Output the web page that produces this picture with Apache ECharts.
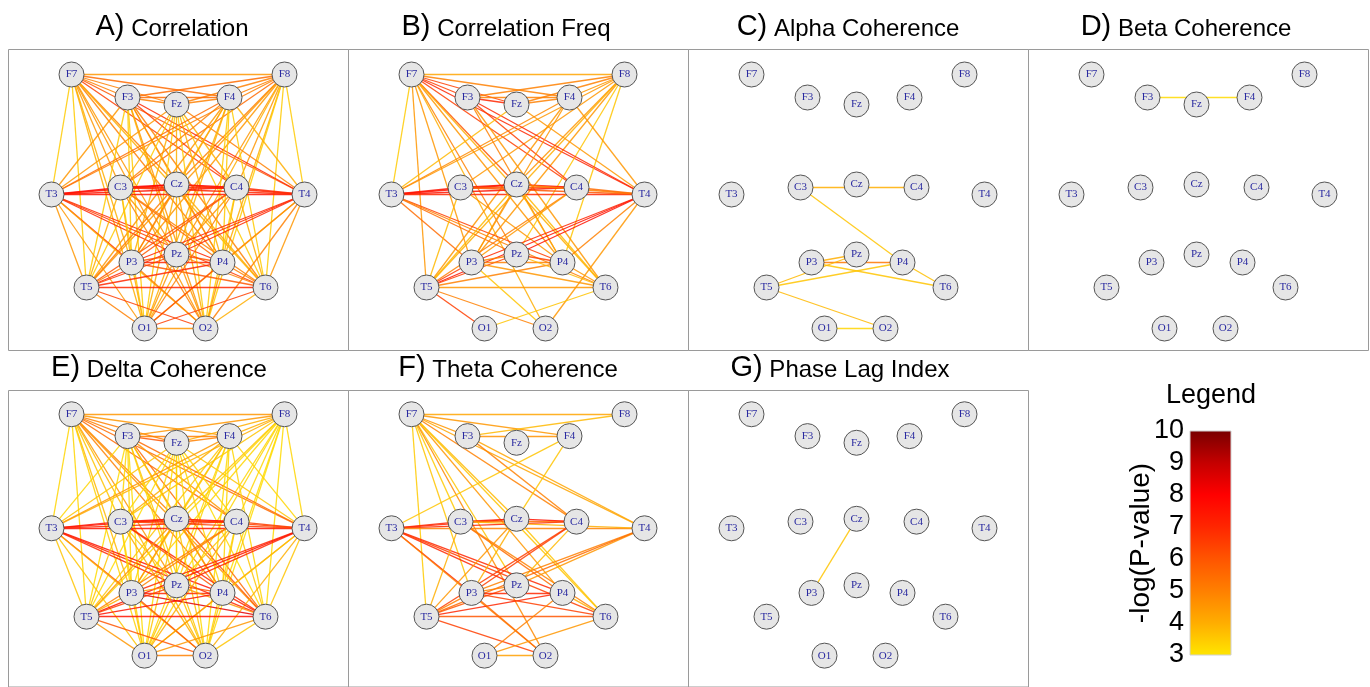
<!DOCTYPE html>
<html>
<head>
<meta charset="utf-8">
<script src="https://cdn.jsdelivr.net/npm/echarts@6/dist/echarts.min.js"></script>
<style>
  html, body { margin: 0; padding: 0; background: #fff; }
  #chart { width: 1370px; height: 687px; }
</style>
</head>
<body>
<div id="chart"></div>
<script>
// electrode layout (panel units, one unit = one pixel of a panel)
const electrodes = ['F7', 'F8', 'F3', 'Fz', 'F4', 'T3', 'C3', 'Cz', 'C4', 'T4', 'P3', 'Pz', 'P4', 'T5', 'T6', 'O1', 'O2'];
const electrodeX = [63, 276, 119, 168, 221, 43, 112, 168, 228, 296, 123, 168, 214, 78, 257, 136, 197];
const electrodeY = [25, 25, 48, 55, 48, 145, 138, 135, 138, 145, 213, 205, 213, 238, 238, 279, 279];

const panelLetters = ['A)', 'B)', 'C)', 'D)', 'E)', 'F)', 'G)'];
const panelNames = ['Correlation', 'Correlation Freq', 'Alpha Coherence', 'Beta Coherence',
  'Delta Coherence', 'Theta Coherence', 'Phase Lag Index'];

// edges: [from, to, -log(p)]
const correlationEdges = [
  ['F7','F8',4.5],['F7','F3',5],['F7','Fz',5],['F7','F4',5.5],['F7','T3',3.5],['F7','C3',4.5],['F7','Cz',5],['F7','C4',6.5],
  ['F7','T4',6],['F7','P3',4],['F7','Pz',4.5],['F7','P4',5],['F7','T5',3.5],['F7','T6',4],['F7','O1',4],['F7','O2',4.5],
  ['F8','F3',5.5],['F8','Fz',5],['F8','F4',5],['F8','T3',5],['F8','C3',5.5],['F8','Cz',5],['F8','C4',4.5],['F8','T4',3.5],
  ['F8','P3',4.5],['F8','Pz',4.5],['F8','P4',4],['F8','T5',4.5],['F8','T6',3.5],['F8','O1',4],['F8','O2',3.5],
  ['F3','Fz',5],['F3','F4',5.5],['F3','C4',6.5],['F3','T4',7],['F3','P4',5],['F3','T6',5],['F3','O2',4.5],['F3','Cz',4.5],
  ['F3','Pz',4],['F3','T3',4.5],['F3','P3',3.5],['F3','O1',3.5],['F3','T5',3.5],
  ['Fz','F4',5],['Fz','T3',4.5],['Fz','C3',4],['Fz','Cz',4],['Fz','C4',4],['Fz','T4',5],['Fz','P3',4],['Fz','P4',4],
  ['Fz','T5',3.5],['Fz','T6',3.5],['Fz','O1',3.5],['Fz','O2',3.5],
  ['F4','T3',5.5],['F4','C3',5],['F4','P3',4.5],['F4','T5',4.5],['F4','O1',4],['F4','Cz',4],['F4','T4',4],['F4','P4',3.5],
  ['F4','T6',3.5],['F4','O2',3.5],['F4','Pz',4],
  ['T3','C3',8],['T3','Cz',7.5],['T3','C4',7.5],['T3','T4',7.5],['T3','P3',7],['T3','Pz',7],['T3','P4',7],['T3','T6',6.5],
  ['T3','T5',4.5],['T3','O1',4.5],['T3','O2',4],
  ['C3','Cz',8],['C3','C4',7],['C3','T4',7],['C3','P4',5.5],['C3','T6',5],['C3','O2',5],['C3','Pz',4.5],['C3','P3',4],
  ['C3','T5',4],['C3','O1',3.5],
  ['Cz','C4',8],['Cz','T4',7],['Cz','P3',5],['Cz','T5',5],['Cz','P4',4.5],['Cz','T6',4],['Cz','O1',4],['Cz','O2',4],['Cz','Pz',4],
  ['C4','T4',7],['C4','P3',6],['C4','T5',6],['C4','O1',5],['C4','P4',4],['C4','T6',4],['C4','Pz',4.5],['C4','O2',3.5],
  ['T4','P3',7],['T4','Pz',7],['T4','T5',7],['T4','P4',5],['T4','T6',4.5],['T4','O1',4.5],['T4','O2',5],
  ['P3','Pz',6],['P3','P4',7],['P3','T6',6],['P3','O2',5],['P3','T5',5],['P3','O1',4],
  ['Pz','P4',6],['Pz','T5',6.5],['Pz','T6',5],['Pz','O1',4.5],['Pz','O2',4.5],
  ['P4','T5',7],['P4','T6',5],['P4','O1',6],['P4','O2',4.5],
  ['T5','T6',7],['T5','O1',5],['T5','O2',6.5],['T6','O1',6.5],['T6','O2',4],['O1','O2',4.5]
];
const correlationFreqEdges = [
  ['F7','F8',4.2],['F7','F3',6.5],['F7','Fz',6.5],['F7','F4',5],['F7','T3',3.5],['F7','C4',6.5],['F7','T4',7],['F7','Cz',6],
  ['F7','P3',4.5],['F7','Pz',5],['F7','P4',4.5],['F7','T5',4.5],['F7','T6',4],['F7','O2',4],
  ['F8','F3',5],['F8','Fz',5],['F8','F4',4.5],['F8','T3',4.5],['F8','C3',4.5],['F8','Cz',4.5],['F8','P3',4.5],['F8','T5',4],
  ['F8','Pz',3.6],['F8','P4',3.6],
  ['F3','Fz',7],['F3','F4',5],['F3','T4',7],['F3','C4',6.5],['F3','P4',5],['F3','T6',4.5],
  ['Fz','T3',3.8],['Fz','T4',4.5],['Fz','F4',5],
  ['F4','T3',4.8],['F4','P3',4.5],['F4','T5',4.5],['F4','T4',4.5],
  ['T3','C3',7.5],['T3','Cz',7.5],['T3','C4',7.5],['T3','T4',7],['T3','P3',5.5],['T3','Pz',5.5],['T3','P4',6.5],['T3','T6',5],
  ['C3','Cz',7.5],['C3','C4',6],['C3','T4',6],['C3','T5',3.8],['C3','P4',4.5],
  ['Cz','C4',7.5],['Cz','T4',5],['Cz','P3',4.5],['Cz','T5',3.8],['Cz','T6',3.8],['Cz','P4',4],
  ['C4','T4',5.5],['C4','T5',5],['C4','P3',4.5],
  ['T4','P3',7],['T4','Pz',7.5],['T4','T5',7.5],['T4','P4',5],['T4','O2',4.5],
  ['T5','P3',6.5],['T5','Pz',6.5],['T5','P4',5],['T5','T6',4.5],['T5','O1',6.5],['T5','O2',5],
  ['P3','Pz',5],['P3','P4',5],['P3','T6',4.5],['P3','O2',3.6],
  ['Pz','P4',6.5],['Pz','T6',3.8],['P4','T6',4.5],['T6','O1',3.6]
];
const alphaEdges = [
  ['C3','C4',4],['C3','P4',3.6],['P3','Pz',4],['P3','P4',5.2],['P3','T6',3.6],['P4','T6',3.7],
  ['T5','Pz',3.8],['T5','P4',3.6],['T5','O2',3.8],['O1','O2',3.3]
];
const betaEdges = [['F3','F4',3.2]];
const deltaEdges = [
  ['F7','F8',4.5],['F7','F3',5],['F7','Fz',5],['F7','F4',4.5],['F7','T3',3.3],['F7','C3',3.6],['F7','Cz',5],['F7','C4',5.5],
  ['F7','T4',5.5],['F7','P3',3.8],['F7','Pz',4.5],['F7','P4',5],['F7','T5',3.3],['F7','T6',4.5],['F7','O1',3.4],['F7','O2',3.8],
  ['F8','F3',4.5],['F8','Fz',4],['F8','F4',4],['F8','T3',4],['F8','C3',3.6],['F8','Cz',3.6],['F8','C4',3.3],['F8','T4',3.3],
  ['F8','P3',3.3],['F8','Pz',3.3],['F8','P4',3.2],['F8','T5',3.3],['F8','T6',3.2],['F8','O1',3.3],['F8','O2',3.2],
  ['F3','Fz',6],['F3','F4',5],['F3','C4',4.5],['F3','T4',5.5],['F3','P4',4.5],['F3','T6',5.5],['F3','Cz',3.6],['F3','Pz',3.3],
  ['F3','T3',3.3],['F3','C3',3.3],['F3','P3',3.3],['F3','T5',3.2],['F3','O1',3.2],['F3','O2',3.6],
  ['Fz','F4',5],['Fz','T3',3.6],['Fz','C3',3.3],['Fz','Cz',3.3],['Fz','C4',3.3],['Fz','T4',3.6],['Fz','P3',3.3],['Fz','P4',3.3],
  ['Fz','T5',3.2],['Fz','T6',3.2],['Fz','O1',3.2],['Fz','O2',3.2],['Fz','Pz',3.3],
  ['F4','T3',4.5],['F4','C3',4],['F4','Cz',3.6],['F4','P3',3.6],['F4','T5',3.6],['F4','O1',3.3],['F4','T4',3.3],['F4','P4',3.3],
  ['F4','T6',3.3],['F4','O2',3.2],['F4','Pz',3.3],
  ['T3','C3',7.5],['T3','Cz',7.5],['T3','C4',7],['T3','T4',7.5],['T3','P3',6],['T3','Pz',7],['T3','P4',7.5],['T3','T6',7],
  ['T3','T5',3.6],['T3','O1',3.6],['T3','O2',4],
  ['C3','Cz',7.5],['C3','C4',7],['C3','T4',6.5],['C3','P4',6],['C3','T6',7],['C3','O2',4],['C3','Pz',3.6],['C3','P3',3.3],
  ['C3','T5',3.6],['C3','O1',3.3],
  ['Cz','C4',8],['Cz','T4',6.5],['Cz','P3',4.5],['Cz','T5',4.5],['Cz','P4',4.5],['Cz','T6',6],['Cz','O1',3.6],['Cz','O2',3.6],['Cz','Pz',3.3],
  ['C4','T4',6.5],['C4','P3',5],['C4','T5',5],['C4','O1',4],['C4','P4',3.6],['C4','T6',3.6],['C4','Pz',3.6],['C4','O2',3.3],
  ['T4','P3',7],['T4','Pz',7],['T4','T5',7.5],['T4','P4',4.5],['T4','T6',3.6],['T4','O1',3.6],['T4','O2',4],
  ['P3','Pz',4.5],['P3','P4',7],['P3','T6',8.5],['P3','O2',6],['P3','T5',4],['P3','O1',3.6],
  ['Pz','P4',6],['Pz','T5',6.5],['Pz','T6',4.5],['Pz','O1',3.6],['Pz','O2',3.6],
  ['P4','T5',7.5],['P4','T6',7],['P4','O1',4.5],['P4','O2',3.6],
  ['T5','T6',7.5],['T5','O1',4.5],['T5','O2',6],['T6','O1',4.5],['T6','O2',3.6],['O1','O2',5]
];
const thetaEdges = [
  ['F7','F8',4.2],['F7','F3',4.5],['F7','F4',4.5],['F7','Cz',3.8],['F7','C3',3.5],['F7','C4',5],['F7','T4',4.2],['F7','P3',3.6],
  ['F7','Pz',3.6],['F7','P4',4.5],['F7','T5',3.5],['F7','O2',4.8],['F7','T6',3.6],
  ['F8','F3',3.8],['F3','F4',4.6],['F3','C4',5],['F3','T4',4.2],['F4','T3',3.6],['F4','Cz',3.6],
  ['T3','C3',7],['T3','Cz',7],['T3','C4',7],['T3','T4',5],['T3','P3',7],['T3','Pz',7],['T3','P4',7],['T3','T6',6.5],['T3','O2',5],
  ['C3','Cz',7.5],['C3','C4',5.5],['C3','T4',4],['C3','P4',5.5],['C3','T6',5],['C3','T5',4],
  ['Cz','C4',7.5],['Cz','T5',4.5],['Cz','P3',4],['Cz','T6',3.6],
  ['C4','T5',6.5],['C4','P3',6.5],['C4','Pz',3.8],
  ['T4','P3',5],['T4','Pz',4.5],['T4','T5',5.5],
  ['T5','P3',5],['T5','Pz',6],['T5','P4',7],['T5','T6',6],['T5','O2',6.5],
  ['P3','P4',7],['P3','T6',6.5],['P3','O2',5.5],['P3','Pz',5],
  ['P4','O1',5],['P4','T6',4],['T6','O1',4.5],['O1','O2',4.3]
];
const phaseLagEdges = [['Cz','P3',3.6]];

const legendTicks = [3, 4, 5, 6, 7, 8, 9, 10];
const heatStops = [[3,'#FFE600'],[4,'#FFAE00'],[5,'#FF8000'],[6,'#FF5500'],[7,'#FF2600'],[8,'#FF0000'],[9,'#C40000'],[10,'#780000']];

const panelEdges = [correlationEdges, correlationFreqEdges, alphaEdges, betaEdges, deltaEdges, thetaEdges, phaseLagEdges];

function hexToRgb(h) {
  return [parseInt(h.slice(1, 3), 16), parseInt(h.slice(3, 5), 16), parseInt(h.slice(5, 7), 16)];
}
function heat(v) {
  for (let i = 1; i < heatStops.length; i++) {
    if (v <= heatStops[i][0]) {
      const [v0, c0] = heatStops[i - 1], [v1, c1] = heatStops[i];
      const t = (v - v0) / (v1 - v0), a = hexToRgb(c0), b = hexToRgb(c1);
      return 'rgb(' + a.map((x, k) => Math.round(x + (b[k] - x) * t)).join(',') + ')';
    }
  }
  return heatStops[heatStops.length - 1][1];
}
function pos(name) {
  const i = electrodes.indexOf(name);
  return [electrodeX[i], electrodeY[i]];
}

const grids = [], xAxes = [], yAxes = [], series = [], graphics = [];
const titleCenters = [172, 506, 848, 1186, 159, 508, 840];

panelEdges.forEach((edges, p) => {
  const row = p < 4 ? 0 : 1, col = p % 4;
  const left = 8.5 + col * 340, top = row === 0 ? 49.5 : 390.5, h = row === 0 ? 301 : 312;
  grids.push({ left: left, top: top, width: 340, height: h, show: true,
    borderColor: '#9a9a9a', borderWidth: 1, backgroundColor: 'transparent' });
  xAxes.push({ gridIndex: p, type: 'value', min: 0, max: 340, show: false });
  yAxes.push({ gridIndex: p, type: 'value', min: 0, max: h, inverse: true, show: false });
  series.push({
    type: 'lines', coordinateSystem: 'cartesian2d', xAxisIndex: p, yAxisIndex: p, z: 2, silent: true,
    lineStyle: { width: 1.3, opacity: 0.85 },
    data: edges.map(([a, b, v]) => ({ coords: [pos(a), pos(b)], value: v, lineStyle: { color: heat(v) } }))
  });
  series.push({
    type: 'scatter', xAxisIndex: p, yAxisIndex: p, z: 3, symbolSize: 25, silent: true,
    itemStyle: { color: '#e6e6e6', borderColor: '#555', borderWidth: 1, opacity: 1 },
    label: { show: true, position: 'inside', formatter: '{b}', fontFamily: 'Liberation Serif',
      fontSize: 11, color: '#2a2aa0' },
    data: electrodes.map((n, i) => ({ name: n, value: [electrodeX[i], electrodeY[i]] }))
  });
  graphics.push({
    type: 'text', x: titleCenters[p], y: row === 0 ? 41 : 382,
    style: {
      text: '{l|' + panelLetters[p] + '} {n|' + panelNames[p] + '}',
      align: 'center', verticalAlign: 'bottom', fill: '#000',
      fontFamily: 'Liberation Sans', fontSize: 24,
      rich: {
        l: { fontSize: 29, fontFamily: 'Liberation Sans', verticalAlign: 'bottom', lineHeight: 32 },
        n: { fontSize: 24, fontFamily: 'Liberation Sans', verticalAlign: 'bottom', lineHeight: 32 }
      }
    }
  });
});

// colour bar legend
const lg = grids.length;
grids.push({ left: 1190, top: 431, width: 41, height: 224 });
xAxes.push({ gridIndex: lg, type: 'value', min: 0, max: 1, show: false });
yAxes.push({
  gridIndex: lg, type: 'value', min: legendTicks[0], max: legendTicks[legendTicks.length - 1], interval: 1,
  axisLine: { show: false }, axisTick: { show: false }, splitLine: { show: false },
  axisLabel: { fontSize: 27, color: '#000', fontFamily: 'Liberation Sans', margin: 6 },
  name: '-log(P-value)', nameLocation: 'middle', nameRotate: 90, nameGap: 35, nameMoveOverlap: false,
  nameTextStyle: { fontSize: 28, color: '#000', fontFamily: 'Liberation Sans' }
});
series.push({
  type: 'custom', xAxisIndex: lg, yAxisIndex: lg, silent: true,
  data: [[0, legendTicks[0], legendTicks[legendTicks.length - 1]]],
  renderItem: function (params, api) {
    const p0 = api.coord([0, api.value(2)]);
    const p1 = api.coord([1, api.value(1)]);
    const lo = heatStops[0][0], hi = heatStops[heatStops.length - 1][0];
    return {
      type: 'rect',
      shape: { x: p0[0], y: p0[1], width: p1[0] - p0[0], height: p1[1] - p0[1] },
      style: {
        fill: new echarts.graphic.LinearGradient(0, 0, 0, 1,
          heatStops.map(([v, c]) => ({ offset: (hi - v) / (hi - lo), color: c })).reverse()),
        stroke: '#d0d0d0', lineWidth: 1
      }
    };
  }
});
graphics.push({
  type: 'text', x: 1211, y: 409,
  style: { text: 'Legend', align: 'center', verticalAlign: 'bottom', fill: '#000',
    fontFamily: 'Liberation Sans', fontSize: 27 }
});

const chart = echarts.init(document.getElementById('chart'), null, { renderer: 'canvas' });
chart.setOption({
  backgroundColor: '#ffffff',
  animation: false,
  grid: grids,
  xAxis: xAxes,
  yAxis: yAxes,
  series: series,
  graphic: graphics
});
</script>
</body>
</html>
